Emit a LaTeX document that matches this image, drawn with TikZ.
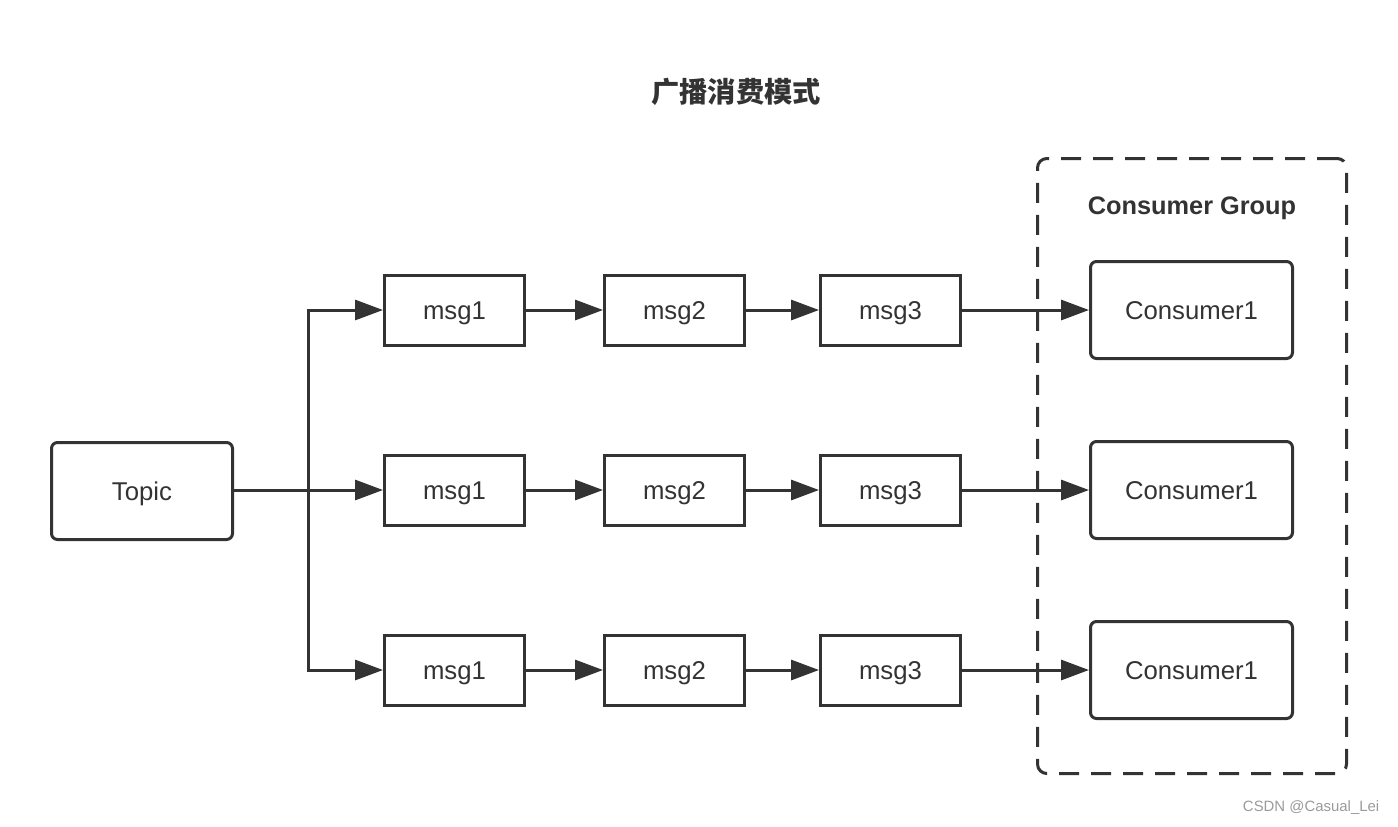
\documentclass[tikz,border=0pt]{standalone}
\usepackage{fontspec}
\setmainfont{Liberation Sans}
\newfontfamily\cjk{Noto Sans CJK SC}
\usetikzlibrary{arrows.meta}
\definecolor{ink}{HTML}{333333}
\definecolor{wm}{HTML}{9A9A9A}
\begin{document}
\begin{tikzpicture}[x=0.75pt,y=-0.75pt,
  box/.style={draw=ink, line width=2.25pt, text=ink, inner sep=0pt,
    font=\fontsize{19.3}{22}\selectfont, text height=13.8pt, text depth=0pt},
  msgbox/.style={box, minimum width=105pt, minimum height=52.5pt},
  roundbox/.style={box, rounded corners=4.5pt, minimum height=72.75pt},
  topicbox/.style={roundbox, minimum width=135.75pt},
  consbox/.style={roundbox, minimum width=151.5pt},
  groupbox/.style={draw=ink, line width=2.25pt, rounded corners=7pt,
    dash pattern=on 15pt off 9pt, minimum width=231.75pt, minimum height=461.25pt, inner sep=0pt},
  conn/.style={draw=ink, line width=2.25pt},
  arr/.style={conn, -{Triangle[length=21pt,width=15pt]}},
  titletext/.style={text=ink, font=\cjk\bfseries\fontsize{21.2}{25}\selectfont},
  grouptext/.style={text=ink, font=\bfseries\fontsize{19}{22}\selectfont, text height=13.6pt, text depth=0pt},
  wmtext/.style={text=wm, font=\fontsize{11.2}{13}\selectfont}
]
\useasboundingbox (0,0) rectangle (1398,826);

\node[titletext] (title) at (736,92) {广播消费模式};

\node[groupbox] (grp) at (1192,466) {};
\node[grouptext] (grplabel) at (1192,205) {Consumer Group};

\node[topicbox] (topic) at (142,491) {Topic};

\foreach \r/\y in {1/310,2/490,3/670}{
  \node[msgbox] (m1r\r) at (454.5,\y) {msg1};
  \node[msgbox] (m2r\r) at (674.5,\y) {msg2};
  \node[msgbox] (m3r\r) at (890.5,\y) {msg3};
  \node[consbox] (c\r) at (1191.5,\y) {Consumer1};
}

\coordinate (j) at (308,490);
\draw[conn] (topic.east |- j) -- (j);
\draw[arr] (j) |- (m1r1.west);
\draw[arr] (j) -- (m1r2.west);
\draw[arr] (j) |- (m1r3.west);

\foreach \r in {1,2,3}{
  \draw[arr] (m1r\r.east) -- (m2r\r.west);
  \draw[arr] (m2r\r.east) -- (m3r\r.west);
  \draw[arr] (m3r\r.east) -- (c\r.west);
}

\node[wmtext, anchor=east] (wm) at (1384,808) {CSDN @Casual\_Lei};
\end{tikzpicture}
\end{document}
